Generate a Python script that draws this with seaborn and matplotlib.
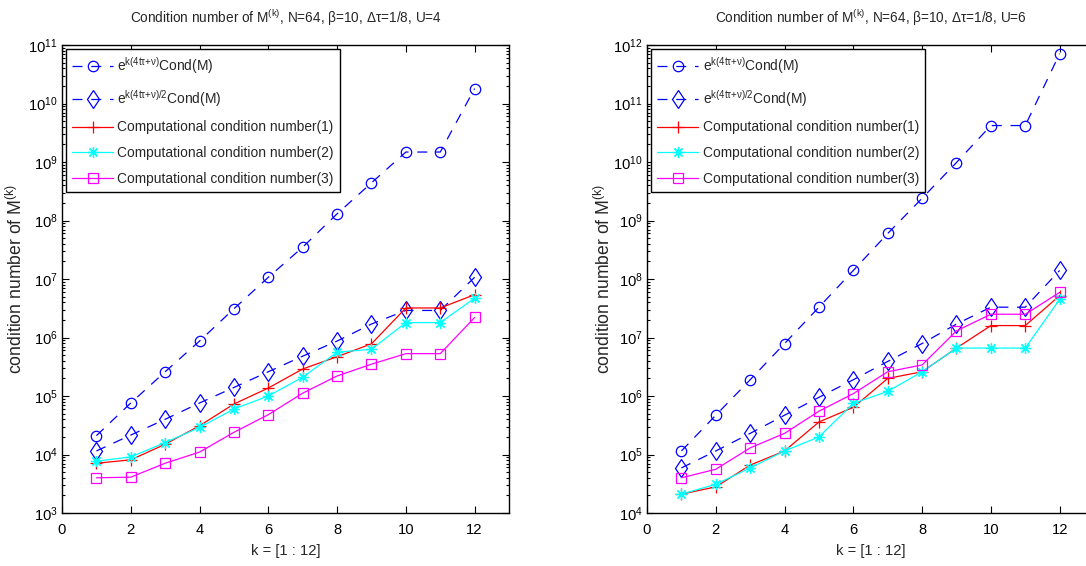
import numpy as np
import pandas as pd
import matplotlib
matplotlib.use("Agg")
import matplotlib.pyplot as plt
import seaborn as sns
from matplotlib import font_manager as fm

# ---------------- data ----------------
k = [1, 2, 3, 4, 5, 6, 7, 8, 9, 10, 11, 12]

# U = 4 panel
u4_bound_full = [2.1e4, 7.6e4, 2.6e5, 8.7e5, 3.1e6, 1.07e7, 3.5e7, 1.3e8, 4.4e8, 1.48e9, 1.48e9, 1.8e10]
u4_bound_half = [1.15e4, 2.15e4, 4.0e4, 7.6e4, 1.4e5, 2.6e5, 4.8e5, 8.7e5, 1.7e6, 2.9e6, 2.9e6, 1.07e7]
u4_comp1 = [7.1e3, 8.1e3, 1.5e4, 3.1e4, 7.3e4, 1.37e5, 2.9e5, 4.7e5, 7.8e5, 3.2e6, 3.2e6, 5.4e6]
u4_comp2 = [7.7e3, 9.1e3, 1.6e4, 2.9e4, 6.0e4, 1.0e5, 2.1e5, 5.6e5, 6.3e5, 1.8e6, 1.8e6, 4.7e6]
u4_comp3 = [4.0e3, 4.1e3, 7.1e3, 1.1e4, 2.4e4, 4.8e4, 1.12e5, 2.2e5, 3.5e5, 5.3e5, 5.3e5, 2.2e6]

# U = 6 panel
u6_bound_full = [1.15e5, 4.7e5, 1.9e6, 7.9e6, 3.3e7, 1.4e8, 6.0e8, 2.4e9, 9.8e9, 4.2e10, 4.2e10, 7.1e11]
u6_bound_half = [5.9e4, 1.15e5, 2.3e5, 4.7e5, 9.5e5, 1.9e6, 3.9e6, 7.9e6, 1.7e7, 3.3e7, 3.3e7, 1.4e8]
u6_comp1 = [2.1e4, 2.8e4, 6.6e4, 1.15e5, 3.6e5, 6.4e5, 2.0e6, 2.6e6, 6.6e6, 1.6e7, 1.6e7, 5.2e7]
u6_comp2 = [2.1e4, 3.1e4, 5.9e4, 1.15e5, 2.0e5, 7.5e5, 1.2e6, 2.6e6, 6.6e6, 6.6e6, 6.6e6, 4.5e7]
u6_comp3 = [4.0e4, 5.6e4, 1.3e5, 2.3e5, 5.5e5, 1.1e6, 2.6e6, 3.4e6, 1.3e7, 2.5e7, 2.5e7, 5.9e7]

titles = ["Condition number of M$^{(k)}$, N=64, β=10, Δτ=1/8, U=4",
          "Condition number of M$^{(k)}$, N=64, β=10, Δτ=1/8, U=6"]
series_labels = ["e$^{k(4tτ{+}ν)}$Cond(M)",
                 "e$^{k(4tτ{+}ν)/2}$Cond(M)",
                 "Computational condition number(1)",
                 "Computational condition number(2)",
                 "Computational condition number(3)"]
xlabel = "k = [1 : 12]"
ylabel = "condition number of M$^{(k)}$"
x_ticks = [0, 2, 4, 6, 8, 10, 12]
ylims = [(1e3, 1e11), (1e4, 1e12)]

# ---------------- style ----------------
sns.set_style("ticks")
names = {f.name for f in fm.fontManager.ttflist}
if "Liberation Sans Narrow" in names:
    HFONT = "Liberation Sans Narrow"
    sc = 1.0
else:
    HFONT = "Liberation Sans"
    sc = 0.85
plt.rcParams["font.family"] = [HFONT, "Liberation Sans", "DejaVu Sans"]
plt.rcParams["mathtext.default"] = "regular"

fig = plt.figure(figsize=(10.86, 5.66), dpi=100)
positions = [[0.0571, 0.0936, 0.4116, 0.8269], [0.5958, 0.0936, 0.4116, 0.8269]]

panels = [
    (u4_bound_full, u4_bound_half, u4_comp1, u4_comp2, u4_comp3),
    (u6_bound_full, u6_bound_half, u6_comp1, u6_comp2, u6_comp3),
]

styles = [
    dict(color="#0000ff", marker="o", linestyle=(0, (8, 7)), markersize=7.5),
    dict(color="#0000ff", marker="d", linestyle=(0, (8, 7)), markersize=9.5),
    dict(color="#ff0000", marker="+", linestyle="-", markersize=9),
    dict(color="#00ffff", marker=(8, 2, 0), linestyle="-", markersize=8),
    dict(color="#ff00ff", marker="s", linestyle="-", markersize=7.5),
]

for p, (pos, data) in enumerate(zip(positions, panels)):
    ax = fig.add_axes(pos)
    for vals, st, lab in zip(data, styles, series_labels):
        df = pd.DataFrame({"k": k, "v": vals})
        sns.lineplot(data=df, x="k", y="v", ax=ax, color=st["color"],
                     marker=st["marker"], linestyle=st["linestyle"],
                     markersize=st["markersize"], markerfacecolor="none",
                     markeredgecolor=st["color"], markeredgewidth=0.9,
                     linewidth=0.9, label=lab)
    ax.set_yscale("log")
    ax.set_xlim(0, 13)
    ax.set_ylim(*ylims[p])
    ax.set_xticks(x_ticks)
    lo, hi = np.log10(ylims[p])
    ax.set_yticks(10.0 ** np.arange(lo, hi + 1))
    ax.yaxis.set_minor_locator(matplotlib.ticker.LogLocator(base=10, subs=np.arange(2, 10), numticks=20))
    ax.yaxis.set_minor_formatter(matplotlib.ticker.NullFormatter())
    ax.tick_params(axis="both", which="both", direction="in", top=True, right=True,
                   labelsize=12.5 * sc, colors="black", width=0.8)
    ax.tick_params(axis="both", which="major", length=5)
    ax.tick_params(axis="y", which="minor", length=2.5)
    ax.tick_params(axis="x", which="major", pad=7)
    ax.tick_params(axis="y", which="major", pad=3)
    for s in ax.spines.values():
        s.set_visible(True)
        s.set_color("black")
        s.set_linewidth(1.0)
    ax.set_title(titles[p], fontsize=11.5 * sc, pad=16)
    ax.set_xlabel(xlabel, fontsize=12.5 * sc)
    ax.xaxis.set_label_coords(0.5, -0.066)
    ax.set_ylabel(ylabel, fontsize=12.7, family=["Liberation Sans", "DejaVu Sans"])
    ax.yaxis.set_label_coords(-0.08 if p == 0 else -0.074, 0.5)
    leg = ax.legend(loc="upper left", fontsize=11.6 * sc, frameon=True, fancybox=False,
                    framealpha=1, edgecolor="black", borderaxespad=0.3,
                    handlelength=3.0, handletextpad=0.3, labelspacing=0.85,
                    borderpad=0.45)
    leg.get_frame().set_linewidth(1.0)

fig.savefig("out.png", dpi=100)
